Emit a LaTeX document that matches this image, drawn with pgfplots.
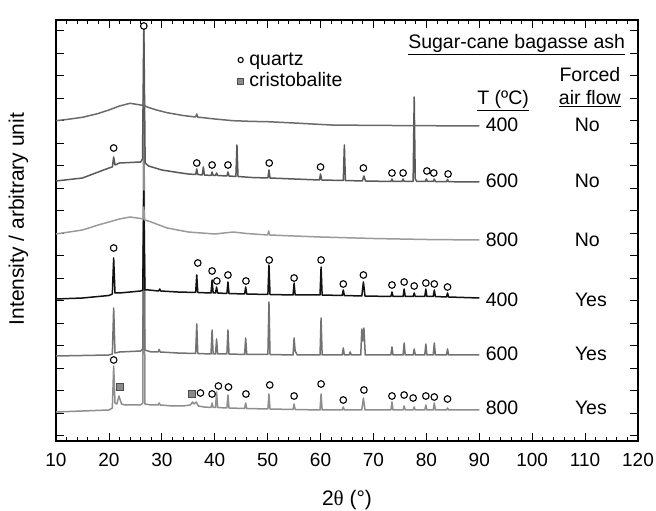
\documentclass[border=0pt]{standalone}
\usepackage{fontspec}
\setmainfont{Liberation Sans}
\newfontfamily\serifgr{Liberation Serif}
\usepackage{pgfplots}
\pgfplotsset{compat=1.18}
\definecolor{cNoA}{HTML}{6A6A6A}
\definecolor{cNoB}{HTML}{595959}
\definecolor{cNoC}{HTML}{9A9A9A}
\definecolor{cYesA}{HTML}{111111}
\definecolor{cYesB}{HTML}{727272}
\definecolor{cYesC}{HTML}{8E8E8E}
\definecolor{sqfill}{HTML}{8A8A8A}
\newcommand{\tf}{\fontsize{19.5bp}{22bp}\selectfont}
\begin{document}
\begin{tikzpicture}
\useasboundingbox (0,0) rectangle (656bp,511bp);
\begin{axis}[
  at={(56bp,70bp)}, anchor=south west,
  scale only axis, width=582bp, height=421bp,
  xmin=10, xmax=120, ymin=0, ymax=421,
  xtick={10,20,...,120}, minor x tick num=4,
  ytick={5.3,27.8,...,411}, yticklabels={},
  tick align=inside,
  major tick length=8bp, minor tick length=4bp,
  axis line style={line width=1.2bp, black},
  every tick/.style={black, line width=0.8bp},
  ticklabel style={font=\fontsize{19bp}{22bp}\selectfont},
  xticklabel style={yshift=-9bp},
  /pgf/number format/assume math mode=true,
  xlabel={2{\serifgr θ} (°)},
  ylabel={Intensity / arbitrary unit},
  label style={font=\fontsize{21bp}{24bp}\selectfont},
  xlabel style={at={(axis description cs:0.5,-0.14)}, anchor=center},
  ylabel style={at={(axis description cs:-0.0644,0.527)}, anchor=center},
  every axis plot/.append style={line width=1.5bp, line join=round},
]
% 800 C, forced air flow
\addplot[cYesC, mark=none] coordinates {(10,29)(15,30)(20,31)(20.65,33)(20.9,75)(21.15,38)(21.5,37)(21.9,45)(22.4,37)(23,36)(26,36)(26.4,38)(26.6,416)(26.8,37)(28,36)(29.3,36)(29.5,38)(29.7,36)(32,35)(34,35)(35.4,36)(35.8,39)(36.1,37)(36.5,39)(36.9,35)(38,34)(39.3,33.5)(39.5,38)(39.7,33.5)(40.15,33.5)(40.35,49)(40.55,33.5)(42.3,33)(42.5,46)(42.7,33)(45.65,32.5)(45.85,38)(46.05,32.5)(50.05,32)(50.25,47)(50.45,32)(54.8,31.5)(55,37)(55.2,31.5)(59.9,31)(60.1,47)(60.3,31)(64.1,31)(64.3,34)(64.5,31)(67.8,31)(68.1,43)(68.4,31)(73.3,31)(73.5,39)(73.7,31)(75.6,31)(75.8,35)(76,31)(77.5,31)(77.7,34)(77.9,31)(79.7,31)(79.9,36)(80.1,31)(81.3,31)(81.5,38)(81.7,31)(83.8,31)(84,33)(84.2,31)(90,31)};
% 600 C, forced air flow
\addplot[cYesB, mark=none] coordinates {(10,85)(15,85.5)(20,86)(20.65,87)(20.9,133)(21.15,88)(22,89)(26,90)(26.4,92)(26.6,250)(26.8,91)(28,89)(29.3,89)(29.5,91.5)(29.7,89)(33,88)(36.4,87.5)(36.6,117)(36.8,87.5)(39.3,87)(39.5,111)(39.7,87)(40.15,87)(40.35,102)(40.55,87)(42.3,87)(42.5,111)(42.7,87)(45.65,86.5)(45.85,103)(46.05,86.5)(50.05,86.5)(50.25,139)(50.45,86.5)(54.8,86)(55,103)(55.2,90)(55.4,88)(55.6,86)(59.9,86)(60.1,123)(60.3,86)(64.1,86)(64.3,93)(64.5,86)(65.4,86)(65.6,89)(65.8,86)(67.6,86)(67.8,112)(68.0,100)(68.2,113)(68.45,86)(73.3,86)(73.5,94)(73.7,86)(75.6,86)(75.8,98)(76,86)(77.5,86)(77.7,92)(77.9,86)(79.7,86)(79.9,97)(80.1,86)(81.3,86)(81.5,98)(81.7,86)(83.8,86)(84,92)(84.2,86)(90,86)};
% 400 C, forced air flow
\addplot[cYesA, mark=none] coordinates {(10,142)(15,143)(20,145.5)(20.65,147)(20.9,183)(21.15,148)(22,148)(24,149)(26,150)(26.4,151)(26.6,250)(26.8,151)(27.5,151)(29.4,150)(29.6,152)(29.8,150)(33,149)(36.4,148.5)(36.6,166)(36.8,148.5)(39.3,148)(39.5,161)(39.7,148)(40.15,148)(40.35,154)(40.55,148)(42.3,147.5)(42.5,159)(42.7,147.5)(45.65,147)(45.85,154)(46.05,147)(50.05,146.5)(50.25,176)(50.45,146.5)(54.8,146)(55,158)(55.2,146)(59.9,146)(60.1,174)(60.3,146)(64.1,145.5)(64.3,151)(64.5,145.5)(67.8,145)(68.1,159)(68.4,145)(73.3,144.5)(73.5,149)(73.7,144.5)(75.6,144.5)(75.8,152)(76,144.5)(77.5,144.5)(77.7,148)(77.9,144.5)(79.7,144.5)(79.9,152)(80.1,144.5)(81.3,144.5)(81.5,151)(81.7,144.5)(83.8,144)(84,148)(84.2,144)(90,143)};
% 800 C, no forced air flow
\addplot[cNoC, mark=none] coordinates {(10,207)(15,211)(18,216)(20,219)(22,222)(24,224)(26,222.5)(26.45,222)(26.6,234)(26.75,221)(28,219)(31,213)(35,209)(40,207)(43.5,209)(46,207.5)(50,206)(50.2,210)(50.4,206)(55,205)(60,204)(70,202.5)(80,201.5)(90,201)};
% 600 C, no forced air flow
\addplot[cNoB, mark=none] coordinates {(10,260)(15,263)(18,269)(20,273)(20.65,274)(20.9,284)(21.15,276)(22,278)(24,278.5)(26,279)(26.35,282)(26.6,416)(26.85,278)(27.5,275)(30,271)(33,268.5)(35,267)(36.4,266.5)(36.6,272)(36.8,266.5)(37.65,266)(37.85,274)(38.05,266)(39.3,265.5)(39.5,269)(39.7,265.5)(40.15,265.5)(40.35,268)(40.55,265.5)(42.3,265)(42.5,269)(42.7,265)(44.0,264.5)(44.2,296)(44.4,264.5)(47,263.5)(50.05,263)(50.25,271)(50.45,263)(55,262)(59.8,261)(60,267)(60.2,261)(64.3,260.5)(64.5,296)(64.7,260.5)(67.9,260)(68.2,265)(68.5,260)(73.3,259.5)(73.5,262)(73.7,259.5)(75.4,259.5)(75.6,262)(75.8,259.5)(77.5,259.5)(77.7,344)(77.9,262)(78.2,259.5)(79.8,259.5)(80,262)(80.2,259.5)(81.3,259.5)(81.5,262)(81.7,259.5)(83.8,259.3)(84,261.5)(84.2,259.3)(90,259)};
% 400 C, no forced air flow
\addplot[cNoA, mark=none] coordinates {(10,320.3)(12,321.5)(15,323.7)(18,327.5)(20,331)(22,335)(24,337.7)(26,336)(26.4,335.5)(26.6,340)(26.8,335)(27.5,333.5)(29,331)(31,328.3)(34,325.5)(36.4,324)(36.6,327)(36.8,323.8)(37.5,323.5)(40,322)(43.5,320.3)(47,319.6)(50,319.3)(55,318)(62,316)(70,315.6)(80,315.3)(90,315)};
% quartz markers
\addplot[only marks, mark=*, mark size=3.3bp, mark options={fill=white, draw=black, line width=1.1bp}] coordinates {
(26.6,415)
(20.9,293)(36.6,278)(39.5,276)(42.5,276)(50.3,278)(60,274)(68.1,273)(73.5,268)(75.6,268)(80.1,270)(81.4,268)(84.1,267)
(20.9,193)(36.8,178)(39.5,170)(40.4,160)(42.5,166)(45.9,160)(50.3,181)(55,163)(60.1,181)(64.3,157)(68.1,166)(73.5,156)(75.8,159)(77.7,155)(79.9,158)(81.5,157)(84,154)
(20.9,81)(37.3,48)(39.5,47)(40.7,55)(42.6,54)(45.9,47)(50.4,56)(55,45)(60.1,57)(64.3,41)(68.2,51)(73.5,45)(75.8,46)(77.5,43)(79.9,45)(81.5,44)(84,42)};
% cristobalite markers
\addplot[only marks, mark=square*, mark size=3.8bp, mark options={fill=sqfill, draw=black!70, line width=0.8bp}] coordinates {(22.1,54)(35.7,47)};
% legend symbols
\addplot[only marks, mark=*, mark size=2.6bp, mark options={fill=white, draw=black, line width=1.1bp}] coordinates {(44.9,381)};
\addplot[only marks, mark=square*, mark size=3.0bp, mark options={fill=sqfill, draw=black!70, line width=0.7bp}] coordinates {(44.8,359.3)};
\node[anchor=base west, inner sep=0pt, font=\tf] at (axis cs:46.5,375) {quartz};
\node[anchor=base west, inner sep=0pt, font=\tf] at (axis cs:46.5,354.3) {cristobalite};
% annotations
\node[anchor=base east, inner sep=0pt, font=\tf] at (axis cs:117.6,392) {\underline{Sugar-cane bagasse ash}};
\node[anchor=base, inner sep=0pt, font=\tf] at (axis cs:110.9,359) {Forced};
\node[anchor=base, inner sep=0pt, font=\tf] at (axis cs:110.9,336) {\underline{air flow}};
\node[anchor=base, inner sep=0pt, font=\tf] at (axis cs:94.5,336) {\underline{T (ºC)}};
\node[anchor=base, inner sep=0pt, font=\tf] at (axis cs:94.3,309) {400};
\node[anchor=base, inner sep=0pt, font=\tf] at (axis cs:94.3,253) {600};
\node[anchor=base, inner sep=0pt, font=\tf] at (axis cs:94.3,194) {800};
\node[anchor=base, inner sep=0pt, font=\tf] at (axis cs:94.3,134) {400};
\node[anchor=base, inner sep=0pt, font=\tf] at (axis cs:94.3,80) {600};
\node[anchor=base, inner sep=0pt, font=\tf] at (axis cs:94.3,27) {800};
\node[anchor=base, inner sep=0pt, font=\tf] at (axis cs:110.4,309) {No};
\node[anchor=base, inner sep=0pt, font=\tf] at (axis cs:110.4,253) {No};
\node[anchor=base, inner sep=0pt, font=\tf] at (axis cs:110.4,194) {No};
\node[anchor=base, inner sep=0pt, font=\tf] at (axis cs:111.1,134) {Yes};
\node[anchor=base, inner sep=0pt, font=\tf] at (axis cs:111.1,80) {Yes};
\node[anchor=base, inner sep=0pt, font=\tf] at (axis cs:111.1,27) {Yes};
\end{axis}
\end{tikzpicture}
\end{document}
